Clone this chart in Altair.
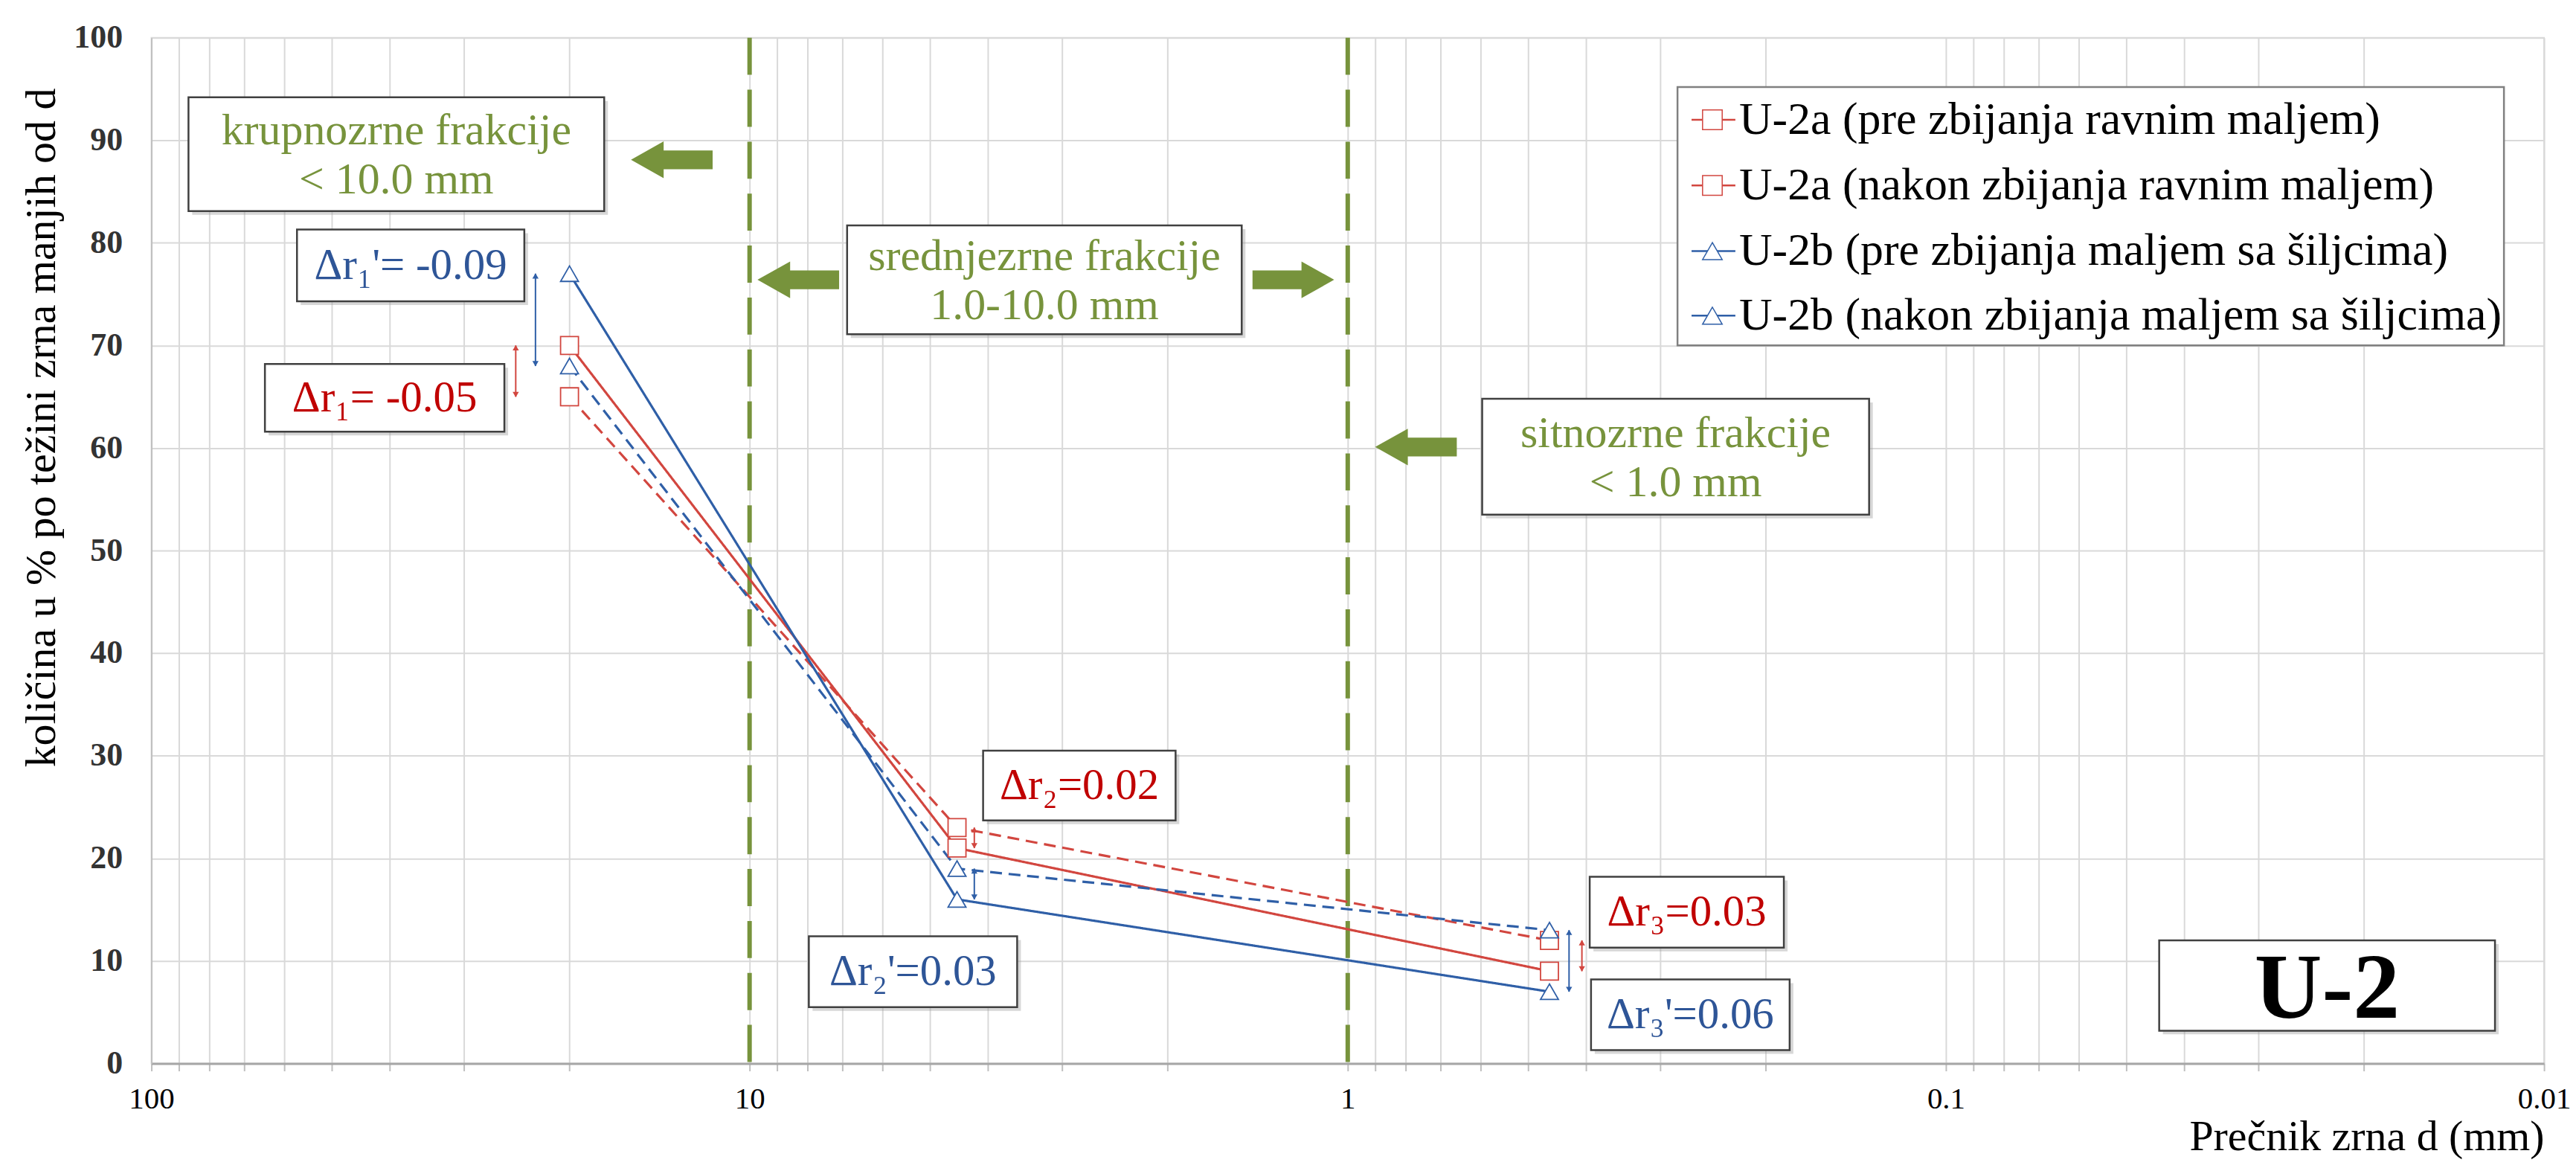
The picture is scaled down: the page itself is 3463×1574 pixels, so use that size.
import altair as alt
import pandas as pd

# ---------------- data ----------------
d_mm = [20, 4.5, 0.46]
u2a_pre = [70, 21, 9]
u2a_nakon = [65, 23, 12]
u2b_pre = [77, 16, 7]
u2b_nakon = [68, 19, 13]

series_names = [
    "U-2a (pre zbijanja ravnim maljem)",
    "U-2a (nakon zbijanja ravnim maljem)",
    "U-2b (pre zbijanja maljem sa šiljcima)",
    "U-2b (nakon zbijanja maljem sa šiljcima)",
]
series_values = [u2a_pre, u2a_nakon, u2b_pre, u2b_nakon]

x_decades = [10, 1, 0.1, 0.01]
x_multipliers = [1, 2, 3, 4, 5, 6, 7, 8, 9]
x_tick_labels = ["100", "10", "1", "0.1", "0.01"]
y_ticks = [0, 10, 20, 30, 40, 50, 60, 70, 80, 90, 100]

# fraction boxes
box_text = ["krupnozrne  frakcije\n< 10.0 mm", "srednjezrne frakcije\n1.0-10.0 mm", "sitnozrne frakcije\n< 1.0 mm"]
box_x1 = [86.7, 6.87, 0.596]
box_x2 = [17.5, 1.504, 0.1344]
box_y1 = [94.2, 81.7, 64.8]
box_y2 = [83.1, 71.1, 53.5]

# green block arrows
arrow_x = [13.49, 8.29, 1.233, 0.769]
arrow_y = [88.1, 76.4, 76.4, 60.1]
arrow_dir = ["left", "left", "right", "left"]

# delta labels
delta_text = ["Δr₁'= -0.09", "Δr₁= -0.05", "Δr₂=0.02", "Δr₂'=0.03", "Δr₃=0.03", "Δr₃'=0.06"]
delta_kind = ["b", "r", "r", "b", "r", "b"]
delta_x1 = [57.1, 64.6, 4.07, 7.96, 0.394, 0.392]
delta_x2 = [23.8, 25.7, 1.94, 3.57, 0.1866, 0.1825]
delta_y1 = [81.3, 68.2, 30.5, 12.4, 18.2, 8.2]
delta_y2 = [74.3, 61.6, 23.7, 5.5, 11.3, 1.3]

# dimension (double-headed) arrows
dim_x = [22.8, 24.6, 4.21, 4.21, 0.4266, 0.406]
dim_top = [77, 70, 23, 19, 13, 12]
dim_bottom = [68, 65, 21, 16, 7, 9]
dim_kind = ["b", "r", "r", "b", "b", "r"]

# legend box
legend_x1, legend_x2 = 0.281, 0.01167
legend_y1, legend_y2 = 95.2, 70.0
legend_row_y = [92.0, 85.6, 79.2, 72.9]
legend_line_x = [0.2662, 0.2249]
legend_marker_x = 0.2457
legend_text_x = 0.2217

# U-2 box
tag_text = "U-2"
tag_x1, tag_x2, tag_y1, tag_y2 = 0.0440, 0.01208, 12.0, 3.2

# ---------------- styles ----------------
RED_LINE = "#D2463F"
BLUE_LINE = "#2F5FA7"
RED_TXT = "#C00000"
BLUE_TXT = "#2E5597"
GREEN = "#77933C"
GRID = "#D9D9D9"
FONT = "Liberation Serif"
W, H = 3224, 1382

series_color = [RED_LINE, RED_LINE, BLUE_LINE, BLUE_LINE]
series_dash = [[1, 0], [16, 9], [1, 0], [16, 9]]
series_shape = ["square", "square", "triangle-up", "triangle-up"]

x_values = sorted({round(m * d, 6) for d in x_decades for m in x_multipliers} | {100.0})

xscale = alt.Scale(type="log", domain=[0.01, 100], reverse=True, nice=False)
yscale = alt.Scale(domain=[0, 100], nice=False)

label_list = "[" + ",".join("'" + t + "'" for t in x_tick_labels) + "]"
xaxis = alt.Axis(
    values=x_values,
    labelExpr=f"indexof({label_list}, format(datum.value, '~g')) >= 0 ? format(datum.value, '~g') : ''",
    grid=True, gridColor=GRID, gridWidth=2,
    tickColor="#BFBFBF", tickSize=10, tickWidth=2,
    domainColor="#A6A6A6", domainWidth=3,
    labelFont=FONT, labelFontSize=41, labelColor="#000000", labelPadding=18,
    labelOverlap=False, labelFlush=False,
    title="Prečnik zrna d (mm)", titleFont=FONT, titleFontSize=58, titleFontWeight="normal",
    titleColor="#000000", titleAnchor="end", titleAlign="right", titleX=W, titleY=116,
    titleBaseline="alphabetic",
)
yaxis = alt.Axis(
    values=y_ticks, grid=True, gridColor=GRID, gridWidth=2,
    tickSize=0, domainColor="#BFBFBF", domainWidth=2,
    labelFont=FONT, labelFontSize=44, labelFontWeight="bold", labelColor="#333333", labelPadding=39,
    title="količina u % po težini zrna manjih od d", titleFont=FONT, titleFontSize=58,
    titleFontWeight="normal", titleColor="#000000", titleAngle=270, titleX=-147, titleY=525,
    titleBaseline="middle", titleAlign="center",
)

X = alt.X("x:Q", scale=xscale, axis=xaxis)
Y = alt.Y("y:Q", scale=yscale, axis=yaxis)
X2 = alt.X2("x2:Q")
Y2 = alt.Y2("y2:Q")

color_enc = alt.Color("s:N", scale=alt.Scale(domain=series_names, range=series_color), legend=None)
dash_enc = alt.StrokeDash("s:N", scale=alt.Scale(domain=series_names, range=series_dash), legend=None)
shape_enc = alt.Shape("s:N", scale=alt.Scale(domain=series_names, range=series_shape), legend=None)
kind_color = alt.Color("k:N", scale=alt.Scale(domain=["r", "b"], range=[RED_TXT, BLUE_TXT]), legend=None)
kind_line_color = alt.Color("k:N", scale=alt.Scale(domain=["r", "b"], range=[RED_LINE, BLUE_LINE]), legend=None)

# ---------------- tables ----------------
series_df = pd.DataFrame(
    [{"x": d, "y": v, "s": n, "o": i} for n, vals in zip(series_names, series_values) for i, (d, v) in enumerate(zip(d_mm, vals))]
)

base_layer = alt.Chart(pd.DataFrame({"x": [100], "y": [0]})).mark_point(opacity=0).encode(x=X, y=Y)

lines = alt.Chart(series_df).mark_line(strokeWidth=3.2).encode(
    x=X, y=Y, color=color_enc, strokeDash=dash_enc, order="o:Q"
)
points = alt.Chart(series_df).mark_point(filled=False, fill="white", fillOpacity=1, opacity=1, size=580, strokeWidth=1.8).encode(
    x=X, y=Y, color=color_enc, shape=shape_enc
)

# fraction boxes
box_df = pd.DataFrame({
    "x": box_x1, "x2": box_x2, "y": box_y1, "y2": box_y2, "t": box_text,
    "xc": [(a * b) ** 0.5 for a, b in zip(box_x1, box_x2)],
    "yc": [(a + b) / 2 for a, b in zip(box_y1, box_y2)],
})
shadow_kw = dict(fill="#9A9A9A", opacity=0.4, xOffset=5, x2Offset=5, yOffset=5, y2Offset=5)
box_shadow = alt.Chart(box_df).mark_rect(**shadow_kw).encode(x=X, x2=X2, y=Y, y2=Y2)
box_rect = alt.Chart(box_df).mark_rect(fill="white", stroke="#404040", strokeWidth=2.5).encode(x=X, x2=X2, y=Y, y2=Y2)
box_label = alt.Chart(box_df).mark_text(font=FONT, fontSize=60, color=GREEN, lineBreak="\n", lineHeight=66, baseline="middle", align="center", dy=-31).encode(
    x=alt.X("xc:Q", scale=xscale, axis=xaxis), y=alt.Y("yc:Q", scale=yscale, axis=yaxis), text="t:N"
)

# green block arrows
path_left = "M -1 0 L -0.2 -0.45 L -0.2 -0.23 L 1 -0.23 L 1 0.23 L -0.2 0.23 L -0.2 0.45 Z"
path_right = "M 1 0 L 0.2 -0.45 L 0.2 -0.23 L -1 -0.23 L -1 0.23 L 0.2 0.23 L 0.2 0.45 Z"
arrow_df = pd.DataFrame({"x": arrow_x, "y": arrow_y, "dir": arrow_dir})
arrows_l = alt.Chart(arrow_df[arrow_df["dir"] == "left"]).mark_point(shape=path_left, size=12100, filled=True, color=GREEN, opacity=1, strokeWidth=0).encode(x=X, y=Y)
arrows_r = alt.Chart(arrow_df[arrow_df["dir"] == "right"]).mark_point(shape=path_right, size=12100, filled=True, color=GREEN, opacity=1, strokeWidth=0).encode(x=X, y=Y)

# delta labels
delta_df = pd.DataFrame({
    "x": delta_x1, "x2": delta_x2, "y": delta_y1, "y2": delta_y2, "t": delta_text, "k": delta_kind,
    "xc": [(a * b) ** 0.5 for a, b in zip(delta_x1, delta_x2)],
    "yc": [(a + b) / 2 for a, b in zip(delta_y1, delta_y2)],
})
delta_shadow = alt.Chart(delta_df).mark_rect(**shadow_kw).encode(x=X, x2=X2, y=Y, y2=Y2)
delta_rect = alt.Chart(delta_df).mark_rect(fill="white", stroke="#404040", strokeWidth=2.5).encode(x=X, x2=X2, y=Y, y2=Y2)
delta_label = alt.Chart(delta_df).mark_text(font=FONT, fontSize=59, baseline="middle", align="center").encode(
    x=alt.X("xc:Q", scale=xscale, axis=xaxis), y=alt.Y("yc:Q", scale=yscale, axis=yaxis), text="t:N", color=kind_color
)

# dimension arrows
dim_df = pd.DataFrame({"x": dim_x, "y": dim_top, "y2": dim_bottom, "k": dim_kind})
dim_rule = alt.Chart(dim_df).mark_rule(strokeWidth=2).encode(x=X, y=Y, y2=Y2, color=kind_line_color)
dim_up = alt.Chart(dim_df).mark_point(shape="triangle-up", size=70, filled=True, opacity=1, yOffset=3).encode(x=X, y=Y, color=kind_line_color)
dim_down = alt.Chart(dim_df).mark_point(shape="triangle-down", size=70, filled=True, opacity=1, yOffset=-3).encode(
    x=X, y=alt.Y("y2:Q", scale=yscale, axis=yaxis), color=kind_line_color
)

# legend
leg_box_df = pd.DataFrame({"x": [legend_x1], "x2": [legend_x2], "y": [legend_y1], "y2": [legend_y2]})
leg_rect = alt.Chart(leg_box_df).mark_rect(fill="white", stroke="#808080", strokeWidth=2.5).encode(x=X, x2=X2, y=Y, y2=Y2)
leg_df = pd.DataFrame({
    "x": [legend_line_x[0]] * 4, "x2": [legend_line_x[1]] * 4, "y": legend_row_y, "s": series_names,
    "xm": [legend_marker_x] * 4, "xt": [legend_text_x] * 4,
})
leg_line = alt.Chart(leg_df).mark_rule(strokeWidth=2.5).encode(x=X, x2=X2, y=Y, color=color_enc)
leg_mark = alt.Chart(leg_df).mark_point(filled=False, fill="white", fillOpacity=1, opacity=1, size=700, strokeWidth=1.5).encode(
    x=alt.X("xm:Q", scale=xscale, axis=xaxis), y=Y, color=color_enc, shape=shape_enc
)
leg_text = alt.Chart(leg_df).mark_text(font=FONT, fontSize=62, align="left", baseline="middle", color="#000000").encode(
    x=alt.X("xt:Q", scale=xscale, axis=xaxis), y=Y, text="s:N"
)

# U-2 tag
tag_df = pd.DataFrame({"x": [tag_x1], "x2": [tag_x2], "y": [tag_y1], "y2": [tag_y2], "t": [tag_text],
                       "xc": [(tag_x1 * tag_x2) ** 0.5], "yc": [(tag_y1 + tag_y2) / 2]})
tag_shadow = alt.Chart(tag_df).mark_rect(**shadow_kw).encode(x=X, x2=X2, y=Y, y2=Y2)
tag_rect = alt.Chart(tag_df).mark_rect(fill="white", stroke="#404040", strokeWidth=2.5).encode(x=X, x2=X2, y=Y, y2=Y2)
tag_label = alt.Chart(tag_df).mark_text(font=FONT, fontSize=126, fontWeight="bold", color="#000000", baseline="middle", align="center", dy=5).encode(
    x=alt.X("xc:Q", scale=xscale, axis=xaxis), y=alt.Y("yc:Q", scale=yscale, axis=yaxis), text="t:N"
)

# green dashed boundaries at 10 mm and 1 mm
bound_df = pd.DataFrame({"x": [10, 1]})
bounds = alt.Chart(bound_df).mark_rule(color=GREEN, strokeWidth=6, strokeDash=[50, 20]).encode(x=X)

chart = alt.layer(
    base_layer, bounds, lines, points,
    dim_rule, dim_up, dim_down,
    box_shadow, box_rect, box_label, arrows_l, arrows_r,
    delta_shadow, delta_rect, delta_label,
    leg_rect, leg_line, leg_mark, leg_text,
    tag_shadow, tag_rect, tag_label,
).resolve_scale(
    color="independent", shape="independent", strokeDash="independent"
).properties(
    width=W, height=H,
    autosize=alt.AutoSizeParams(type="none"),
    padding={"left": 196, "top": 41, "right": 35, "bottom": 130},
    background="white",
).configure_view(stroke=GRID, strokeWidth=2)

chart.save("out.html", embed_options={"renderer": "svg", "actions": False})
